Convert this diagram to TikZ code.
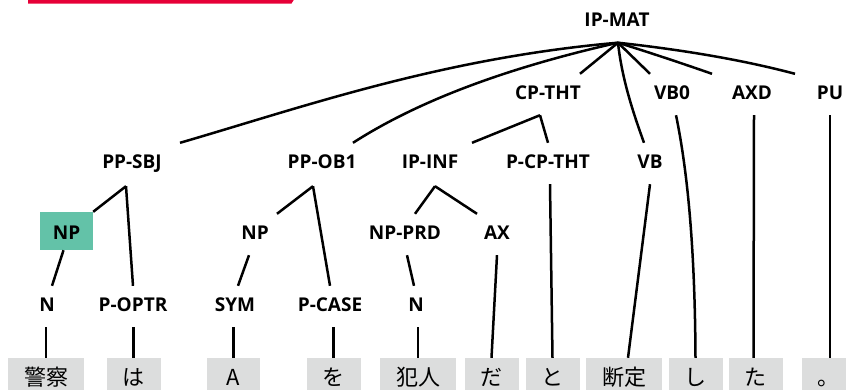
\documentclass[tikz,border=0pt]{standalone}
\usepackage{fontspec}
\setmainfont{Open Sans}
\newfontfamily\jpfont{Noto Sans CJK JP}
\usepackage{xcolor}
\usepackage{tikz}
\definecolor{bannerred}{RGB}{230,0,55}
\definecolor{npteal}{RGB}{99,194,168}
\definecolor{wordgray}{RGB}{220,221,221}
\tikzset{
    tag/.style={anchor=base, inner xsep=2pt, inner ysep=0pt, text height=25pt, text depth=16pt, font=\fontsize{19pt}{22pt}\selectfont\bfseries},
    hitag/.style={tag, fill=npteal, minimum width=53pt, text height=27pt, text depth=11pt},
    word/.style={anchor=base, fill=wordgray, minimum width=53pt, inner xsep=16pt, inner ysep=0pt, text height=27pt, text depth=12pt, font=\fontsize{22pt}{26pt}\selectfont\jpfont},
    branch/.style={line width=2.5pt}
}
\begin{document}
\begin{tikzpicture}[x=1pt, y=-1pt]
    \useasboundingbox (0,0) rectangle (846,389);
    \clip (0,0) rectangle (846,389);

    % Banner edge
    \fill[bannerred] (28,-2) -- (295,-2) -- (291.5,3.5) -- (28,3.5) -- cycle;

    % Root and first level
    \node[tag] (top) at (617,26.5) {IP-MAT};
    \node[tag] (cpt) at (548,99) {CP-THT};
    \node[tag] (vbz) at (672,99) {VB0};
    \node[tag] (axd) at (752,99) {AXD};
    \node[tag] (pu) at (830,99) {PU};

    % Second level
    \node[tag] (sbj) at (132,168) {PP-SBJ};
    \node[tag] (ob1) at (322,168) {PP-OB1};
    \node[tag] (inf) at (430,168) {IP-INF};
    \node[tag] (pcp) at (548,168) {P-CP-THT};
    \node[tag] (vb) at (650,168) {VB};

    % Third level
    \node[hitag] (np1) at (66.5,239) {NP};
    \node[tag] (np2) at (255,239) {NP};
    \node[tag] (prd) at (405,239) {NP-PRD};
    \node[tag] (ax) at (497,239) {AX};

    % Fourth level
    \node[tag] (n1) at (47,311) {N};
    \node[tag] (optr) at (133,311) {P-OPTR};
    \node[tag] (sym) at (235,311) {SYM};
    \node[tag] (pcase) at (330,311) {P-CASE};
    \node[tag] (n2) at (416,311) {N};

    % Words
    \node[word] (w1) at (46,385) {警察};
    \node[word] (w2) at (133.5,385) {は};
    \node[word] (w3) at (233.5,385) {A};
    \node[word] (w4) at (333.5,385) {を};
    \node[word] (w5) at (418,385) {犯人};
    \node[word] (w6) at (491.5,385) {だ};
    \node[word] (w7) at (552.5,385) {と};
    \node[word] (w8) at (624,385) {断定};
    \node[word] (w9) at (695.5,385) {し};
    \node[word] (w10) at (755.5,385) {た};
    \node[word] (w11) at (828.5,385) {。};

    % Branch points
    \coordinate (top-b) at ([xshift=1pt]top.south);
    \coordinate (cpt-b) at ([xshift=-8pt]cpt.south);
    \coordinate (sbj-b) at ([xshift=-6pt,yshift=-2pt]sbj.south);
    \coordinate (ob1-b) at ([xshift=-9pt,yshift=-2pt]ob1.south);
    \coordinate (inf-b) at ([xshift=5pt,yshift=-2pt]inf.south);

    % Branches from the root
    \draw[branch] (top-b) .. controls (441,58) and (300,108) .. ([xshift=48pt]sbj.north);
    \draw[branch] (top-b) .. controls (506,68) and (418,101) .. ([xshift=31pt]ob1.north);
    \draw[branch] (top-b) -- ([xshift=32pt]cpt.north);
    \draw[branch] (top-b) .. controls (622,80) and (634,115) .. ([xshift=-6pt]vb.north);
    \draw[branch] (top-b) -- ([xshift=-22pt]vbz.north);
    \draw[branch] (top-b) .. controls (648,52) and (684,64) .. ([xshift=-40pt]axd.north);
    \draw[branch] (top-b) .. controls (684,50) and (743,60) .. ([xshift=-35pt]pu.north);

    % Branches below the first level
    \draw[branch] (cpt-b) -- ([xshift=42pt]inf.north);
    \draw[branch] (cpt-b) -- (pcp.north);
    \draw[branch] ([xshift=4pt]vbz.south) .. controls (689,178) and (695,259) .. (w9.north);
    \draw[branch] ([xshift=2pt]axd.south) -- ([xshift=-2pt]w10.north);
    \draw[branch] (pu.south) -- (pu.south |- w11.north);

    % Branches below the second level
    \draw[branch] (sbj-b) -- (np1.north east);
    \draw[branch] (sbj-b) -- (optr.north);
    \draw[branch] (ob1-b) -- ([xshift=22pt]np2.north);
    \draw[branch] (ob1-b) -- (pcase.north);
    \draw[branch] (inf-b) -- ([xshift=10pt]prd.north);
    \draw[branch] (inf-b) -- ([xshift=-20pt]ax.north);
    \draw[branch] ([xshift=2pt]pcp.south) -- (w7.north);
    \draw[branch] (vb.south) -- ([xshift=4pt]w8.north);

    % Branches below the third level
    \draw[branch] ([xshift=-3pt]np1.south) -- ([xshift=5pt]n1.north);
    \draw[branch] ([xshift=-6pt]np2.south) -- ([xshift=3pt]sym.north);
    \draw[branch] ([xshift=2pt]prd.south) -- ([xshift=-2pt]n2.north);
    \draw[branch] (ax.south) -- (w6.north);

    % Branches down to the words
    \draw[branch] (n1.south -| w1.north) -- (w1.north);
    \draw[branch] (optr.south -| w2.north) -- (w2.north);
    \draw[branch] (sym.south -| w3.north) -- (w3.north);
    \draw[branch] (pcase.south -| w4.north) -- (w4.north);
    \draw[branch] (n2.south -| w5.north) -- (w5.north);

\end{tikzpicture}
\end{document}
